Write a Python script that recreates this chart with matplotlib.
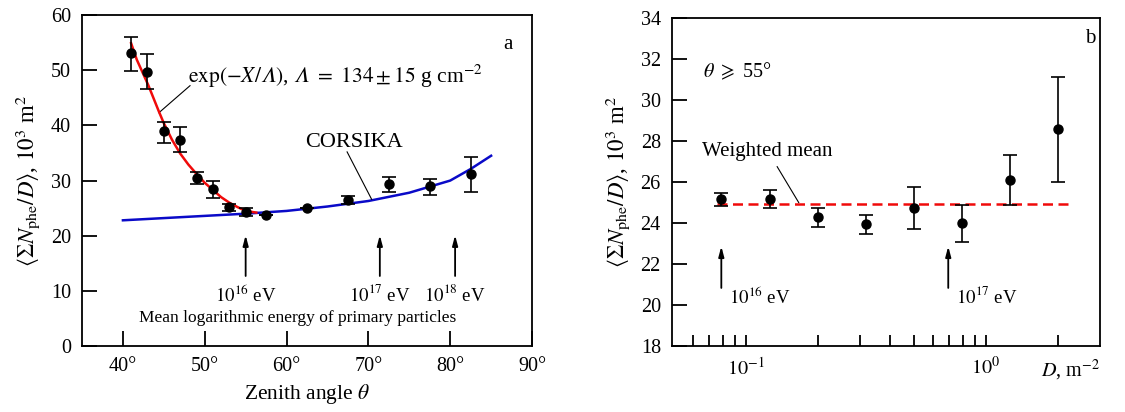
import numpy as np
import matplotlib
matplotlib.use("Agg")
from matplotlib import pyplot as plt
from matplotlib.ticker import FixedLocator, NullFormatter

plt.rcParams['font.family'] = ['Liberation Serif', 'DejaVu Serif']
plt.rcParams['mathtext.fontset'] = 'stix'

# (a) zenith angle dependence
theta = [41, 43, 45, 47, 49, 51, 53, 55, 57.5, 62.5, 67.5, 72.5, 77.5, 82.5]
n_theta = [53.1, 49.7, 38.9, 37.4, 30.5, 28.4, 25.2, 24.3, 23.8, 25.0, 26.4, 29.3, 29.0, 31.2]
err_hi_a = [3.0, 3.3, 1.8, 2.3, 1.0, 1.6, 0.5, 0.8, 0.0, 0.0, 0.8, 1.3, 1.3, 3.0]
err_lo_a = [3.3, 3.1, 2.0, 2.3, 1.2, 1.5, 0.7, 0.7, 0.0, 0.0, 0.7, 1.4, 1.6, 3.3]

# exponential fit curve
fit_theta = [41.0, 41.7, 43.1, 44.4, 45.0, 46.0, 47.0, 48.0, 49.0, 50.0, 51.0, 52.0, 53.0, 54.0, 55.0, 56.3]
fit_n = [54.9, 51.9, 47.3, 42.5, 40.4, 37.4, 34.9, 32.9, 31.2, 29.6, 28.3, 27.0, 26.0, 25.2, 24.5, 24.2]

# CORSIKA prediction
cors_theta = [40, 45, 50, 55, 60, 65, 70, 75, 77.5, 80, 82.5, 85]
cors_n = [22.8, 23.2, 23.6, 24.0, 24.5, 25.3, 26.3, 27.8, 28.9, 30.0, 32.1, 34.5]

xticks_a = [40, 50, 60, 70, 80, 90]
xlabels_a = ['40°', '50°', '60°', '70°', '80°', '90°']
energy_theta = [55.0, 71.4, 80.6]
energy_labels_a = [r'$10^{16}$ eV', r'$10^{17}$ eV', r'$10^{18}$ eV']

# (b) density dependence, theta >= 55
dens = [0.079, 0.126, 0.2, 0.316, 0.5, 0.794, 1.26, 2.0]
n_dens = [25.17, 25.17, 24.28, 23.95, 24.72, 24.02, 26.08, 28.61]
err_hi_b = [0.31, 0.44, 0.44, 0.44, 1.02, 0.88, 1.23, 2.51]
err_lo_b = [0.32, 0.42, 0.46, 0.49, 1.00, 0.92, 1.18, 2.61]
wmean = 24.93
energy_dens = [0.079, 0.697]
energy_labels_b = [r'$10^{16}$ eV', r'$10^{17}$ eV']

ylab = r'$\left\langle \Sigma N_{\mathrm{phe}}/D \right\rangle$, $10^3$ m$^2$'

fig = plt.figure(figsize=(11.25, 4.12), dpi=100)
ax1 = fig.add_axes([0.0729, 0.160, 0.400, 0.8034])
ax2 = fig.add_axes([0.5973, 0.160, 0.3805, 0.7963])

for ax in (ax1, ax2):
    for s in ax.spines.values():
        s.set_linewidth(1.3)
    ax.tick_params(direction='in', width=1.3, labelsize=14.5, pad=8)
    ax.tick_params(axis='y', length=11)

# ---- panel a
ax1.plot(cors_theta, cors_n, color='#0a0ac8', lw=1.8, zorder=2)
ax1.plot(fit_theta, fit_n, color='#f00a0a', lw=1.8, zorder=3)
ax1.errorbar(theta, n_theta, yerr=[err_lo_a, err_hi_a], fmt='o', color='black',
             ms=6.5, capsize=5, elinewidth=1.2, capthick=1.2, zorder=4)
ax1.set_xlim(35, 90)
ax1.set_ylim(0, 60)
ax1.set_xticks(xticks_a)
ax1.set_xticklabels(xlabels_a)
ax1.set_yticks(range(0, 61, 10))
ax1.tick_params(axis='x', length=11)
ax1.set_xlabel(r'Zenith angle $\theta$', fontsize=15.5, labelpad=4)
ax1.set_ylabel(ylab, fontsize=16.5, labelpad=6)

for th, lab in zip(energy_theta, energy_labels_a):
    ax1.annotate('', xy=(th, 20.6), xytext=(th, 12.2),
                 arrowprops=dict(arrowstyle='-|>,head_length=0.6,head_width=0.16',
                                 color='black', lw=1.3))
    ax1.text(th, 9.3, lab, ha='center', va='center', fontsize=13.5)
ax1.text(61.3, 5.0, 'Mean logarithmic energy of primary particles',
         ha='center', va='center', fontsize=12.5)

ax1.text(48.0, 48.9, '$\\exp(-X/\U0001D6EC)$, $\U0001D6EC$ $=$ $134 \\pm 15$ g cm$^{-2}$',
         ha='left', va='center', fontsize=15.5)
ax1.plot([48.2, 44.4], [47.2, 42.3], color='black', lw=0.8)
ax1.text(68.3, 36.9, 'CORSIKA', ha='center', va='center', fontsize=16)
ax1.plot([67.4, 70.4], [35.2, 26.6], color='black', lw=0.8)
ax1.text(87.1, 54.6, 'a', ha='center', va='center', fontsize=15)

# ---- panel b
ax2.set_xscale('log')
ax2.set_xlim(0.0492, 2.99)
ax2.set_ylim(18, 34)
ax2.hlines(wmean, 0.0755, 2.2, colors='#f00a0a', linestyles=(0, (4, 2.2)), lw=1.8, zorder=2)
ax2.errorbar(dens, n_dens, yerr=[err_lo_b, err_hi_b], fmt='o', color='black',
             ms=6.5, capsize=5, elinewidth=1.2, capthick=1.2, zorder=4)
ax2.set_xticks([0.1, 1.0])
ax2.set_xticklabels([r'$10^{-1}$', r'$10^{0}$'])
ax2.xaxis.set_minor_locator(FixedLocator([0.06, 0.07, 0.08, 0.09, 0.2, 0.3, 0.4, 0.5,
                                          0.6, 0.7, 0.8, 0.9, 2.0]))
ax2.xaxis.set_minor_formatter(NullFormatter())
ax2.tick_params(axis='x', which='both', length=8, width=1.3, direction='in')
ax2.set_yticks(range(18, 35, 2))
ax2.set_ylabel(ylab, fontsize=16.5, labelpad=6)
ax2.text(1.0, -0.073, r'$D$, m$^{-2}$', transform=ax2.transAxes,
         ha='right', va='center', fontsize=14.5)

for d, lab in zip(energy_dens, energy_labels_b):
    ax2.annotate('', xy=(d, 23.0), xytext=(d, 20.7),
                 arrowprops=dict(arrowstyle='-|>,head_length=0.6,head_width=0.16',
                                 color='black', lw=1.3))
    ax2.text(d * 1.08, 20.4, lab, ha='left', va='center', fontsize=13.5)

ax2.text(0.0655, 27.5, 'Weighted mean', ha='left', va='center', fontsize=15)
ax2.plot([0.135, 0.166], [26.75, 25.0], color='black', lw=0.8)
ax2.text(0.066, 31.4, r'$\theta$ $\geqslant$ 55°', ha='left', va='center', fontsize=14.5)
ax2.text(2.72, 33.0, 'b', ha='center', va='center', fontsize=15)

fig.savefig('out.png', dpi=100)
